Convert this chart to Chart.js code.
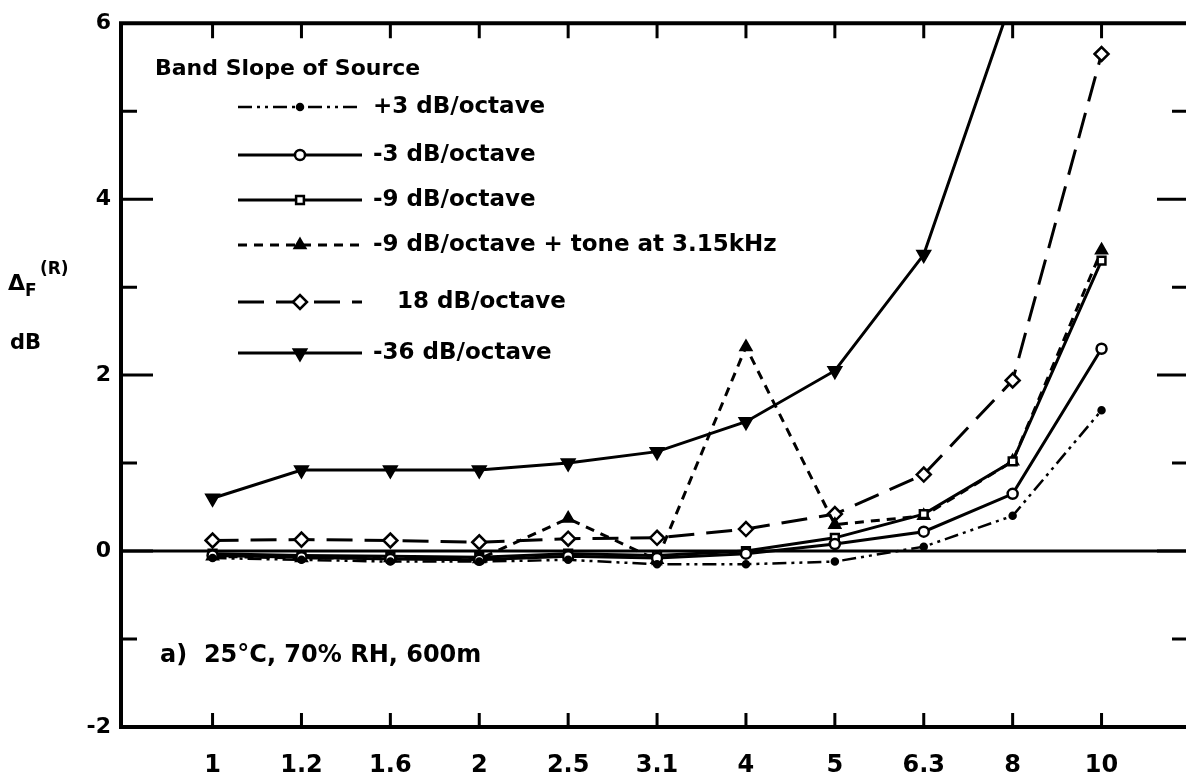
<!DOCTYPE html>
<html>
<head>
<meta charset="utf-8">
<script src="https://cdn.jsdelivr.net/npm/chart.js@4/dist/chart.umd.min.js"></script>
<style>
  html, body { margin: 0; padding: 0; background: #fff; overflow: hidden; }
</style>
</head>
<body>
<canvas id="chart" width="1186" height="781"></canvas>
<script>
// one-third octave band centre frequencies (kHz)
const bands = ['1', '1.2', '1.6', '2', '2.5', '3.1', '4', '5', '6.3', '8', '10'];

// Delta_F(R) in dB for each source band slope
const plus3 = [-0.08, -0.1, -0.12, -0.12, -0.1, -0.15, -0.15, -0.12, 0.05, 0.4, 1.6];
const minus3 = [-0.05, -0.07, -0.09, -0.1, -0.06, -0.08, -0.03, 0.08, 0.22, 0.65, 2.3];
const minus9 = [-0.03, -0.05, -0.06, -0.07, -0.03, -0.05, 0.0, 0.15, 0.42, 1.02, 3.3];
const minus9Tone = [-0.06, -0.08, -0.08, -0.09, 0.37, -0.1, 2.32, 0.3, 0.4, 1.02, 3.42];
const slope18 = [0.12, 0.13, 0.12, 0.1, 0.14, 0.15, 0.25, 0.42, 0.87, 1.94, 5.65];
const minus36 = [0.6, 0.92, 0.92, 0.92, 1.0, 1.13, 1.47, 2.05, 3.37, 6.3, null];

const yTicks = [-2, 0, 2, 4, 6];
const yMinor = [-1, 1, 3, 5];

const FONT = 'DejaVu Sans';

const pts = (arr) => arr.map((v, i) => ({ x: i, y: v }));

function series(label, data, style) {
  return Object.assign({
    label: label,
    data: pts(data),
    borderColor: '#000',
    borderWidth: 3,
    pointBorderColor: '#000',
    pointBorderWidth: 2.5,
    pointBackgroundColor: '#fff',
    pointRadius: 5,
    tension: 0,
    fill: false
  }, style);
}

const datasets = [
  series('+3 dB/octave', plus3, { borderWidth: 2.5, borderDash: [14, 5, 3, 5, 3, 5], pointStyle: 'circle', pointRadius: 3, pointBackgroundColor: '#000' }),
  series('-3 dB/octave', minus3, { pointStyle: 'circle', pointRadius: 5 }),
  series('-9 dB/octave', minus9, { pointStyle: 'rect', pointRadius: 5.5 }),
  series('-9 dB/octave + tone at 3.15kHz', minus9Tone, { borderDash: [9, 7], pointStyle: 'triangle', pointRadius: 6, pointBackgroundColor: '#000' }),
  series('18 dB/octave', slope18, { borderDash: [26, 12], pointStyle: 'rectRot', pointRadius: 7 }),
  series('-36 dB/octave', minus36, { pointStyle: 'triangle', pointRotation: 180, pointRadius: 7, pointBackgroundColor: '#000' })
];

// axis lines on left/top/bottom with inward ticks, plus the 0 dB line
const frame = {
  id: 'frame',
  beforeDatasetsDraw(chart) {
    const { ctx, chartArea: a, scales: { y } } = chart;
    const y0 = y.getPixelForValue(0);
    ctx.save();
    ctx.strokeStyle = '#000';
    ctx.lineWidth = 3;
    ctx.beginPath();
    ctx.moveTo(a.left, y0);
    ctx.lineTo(a.right, y0);
    ctx.stroke();
    ctx.restore();
  },
  afterDatasetsDraw(chart) {
    const { ctx, chartArea: a, scales: { x, y } } = chart;
    ctx.save();
    ctx.strokeStyle = '#000';
    ctx.lineCap = 'square';
    ctx.lineWidth = 4;
    ctx.beginPath();
    ctx.moveTo(a.right, a.top);
    ctx.lineTo(a.left, a.top);
    ctx.lineTo(a.left, a.bottom);
    ctx.lineTo(a.right, a.bottom);
    ctx.stroke();

    ctx.lineCap = 'butt';
    ctx.lineWidth = 3;
    ctx.beginPath();
    bands.forEach((b, i) => {
      const px = x.getPixelForValue(i);
      ctx.moveTo(px, a.top);
      ctx.lineTo(px, a.top + 15);
      ctx.moveTo(px, a.bottom);
      ctx.lineTo(px, a.bottom - 14);
    });
    yTicks.forEach(v => {
      const py = y.getPixelForValue(v);
      if (v === 6 || v === -2) return;
      ctx.moveTo(a.left, py);
      ctx.lineTo(a.left + 32, py);
      ctx.moveTo(a.right, py);
      ctx.lineTo(a.right - 29, py);
    });
    yMinor.forEach(v => {
      const py = y.getPixelForValue(v);
      ctx.moveTo(a.left, py);
      ctx.lineTo(a.left + 16, py);
      ctx.moveTo(a.right, py);
      ctx.lineTo(a.right - 14, py);
    });
    ctx.stroke();
    ctx.restore();
  }
};

// legend block, axis title and condition note
const notes = {
  id: 'notes',
  afterDraw(chart) {
    const { ctx } = chart;
    ctx.save();
    ctx.fillStyle = '#000';
    ctx.strokeStyle = '#000';
    ctx.textBaseline = 'middle';
    ctx.textAlign = 'left';

    ctx.font = 'bold 22px "' + FONT + '"';
    ctx.fillText('Band Slope of Source', 155, 69);

    const rows = [107, 155, 200, 245, 302, 353];
    const indent = [0, 0, 0, 0, 24, 0];
    chart.data.datasets.forEach((ds, i) => {
      const ry = rows[i];
      ctx.save();
      ctx.lineWidth = ds.borderWidth;
      ctx.setLineDash(ds.borderDash || []);
      ctx.beginPath();
      ctx.moveTo(238, ry);
      ctx.lineTo(362, ry);
      ctx.stroke();
      ctx.setLineDash([]);
      ctx.fillStyle = ds.pointBackgroundColor;
      ctx.lineWidth = ds.pointBorderWidth;
      Chart.helpers.drawPoint(ctx, {
        pointStyle: ds.pointStyle,
        radius: ds.pointRadius,
        rotation: ds.pointRotation || 0,
        borderWidth: ds.pointBorderWidth
      }, 300, ry);
      ctx.restore();
      ctx.font = 'bold 23px "' + FONT + '"';
      ctx.fillText(ds.label, 373 + indent[i], ry);
    });

    // axis title: Delta_F(R) / dB
    ctx.font = 'bold 22px "' + FONT + '"';
    ctx.fillText('\u0394', 8, 284);
    ctx.font = 'bold 17px "' + FONT + '"';
    ctx.fillText('F', 25, 292);
    ctx.fillText('(R)', 40, 270);
    ctx.font = 'bold 21px "' + FONT + '"';
    ctx.fillText('dB', 10, 344);

    ctx.font = 'bold 24px "' + FONT + '"';
    ctx.fillText('a)  25\u00b0C, 70% RH, 600m', 160, 656);
    ctx.restore();
  }
};

Chart.defaults.font.family = FONT;
Chart.defaults.font.weight = 'bold';
Chart.defaults.color = '#000';

new Chart(document.getElementById('chart'), {
  type: 'line',
  data: { datasets: datasets },
  options: {
    responsive: false,
    animation: false,
    layout: { autoPadding: false, padding: { top: 17, right: 0, left: 0, bottom: 0 } },
    plugins: { legend: { display: false }, tooltip: { enabled: false } },
    scales: {
      x: {
        type: 'linear',
        min: -1.03,
        max: 10.95,
        afterBuildTicks: (axis) => { axis.ticks = bands.map((b, i) => ({ value: i })); },
        afterFit: (axis) => {
          axis.height = 54;
          axis.paddingLeft = 0;
          axis.paddingRight = 0;
        },
        ticks: {
          callback: (v) => bands[v],
          font: { size: 24, weight: 'bold' },
          padding: 24,
          maxRotation: 0,
          autoSkip: false
        },
        grid: { display: false, drawTicks: false },
        border: { display: false }
      },
      y: {
        min: -2,
        max: 6,
        afterBuildTicks: (axis) => { axis.ticks = yTicks.map(v => ({ value: v })); },
        afterFit: (axis) => { axis.width = 121; },
        ticks: { font: { size: 22, weight: 'bold' }, padding: 10 },
        grid: { display: false, drawTicks: false },
        border: { display: false }
      }
    }
  },
  plugins: [frame, notes]
});
</script>
</body>
</html>
